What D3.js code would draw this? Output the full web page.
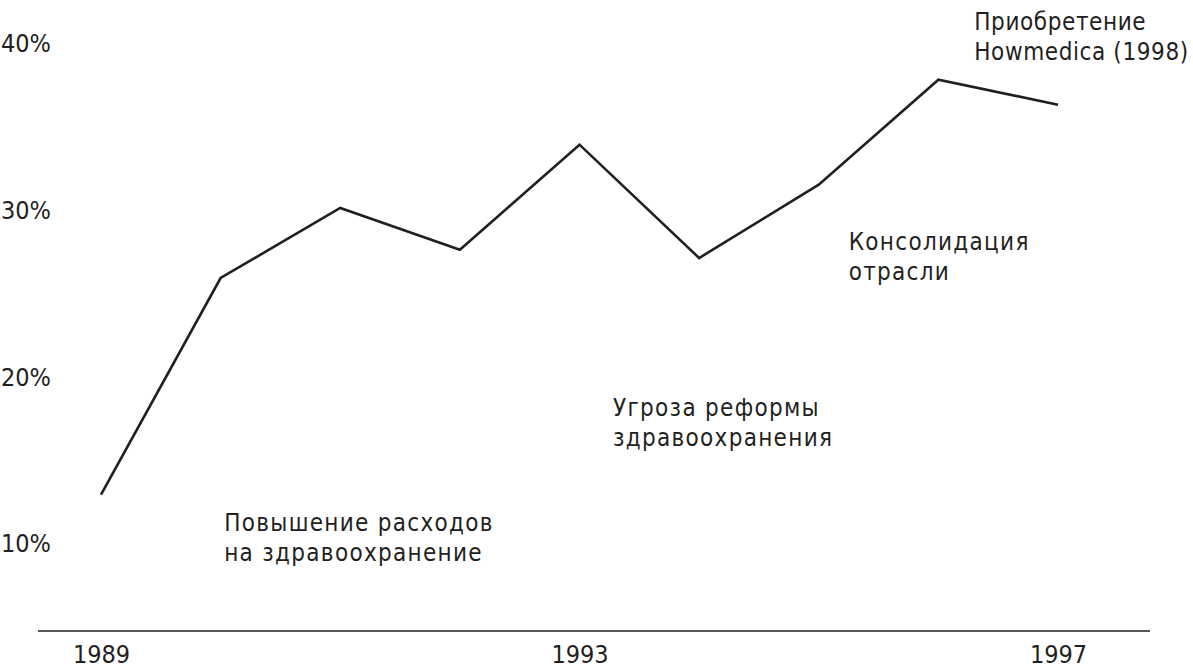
<!DOCTYPE html>
<html>
<head>
<meta charset="utf-8">
<script src="https://cdn.jsdelivr.net/npm/d3@7"></script>
<style>
  html, body { margin: 0; padding: 0; background: #fff; }
  svg text { font-family: "DejaVu Sans Condensed", "Liberation Sans Narrow", "DejaVu Sans", sans-serif; fill: #231f20; }
</style>
</head>
<body>
<svg id="chart" width="1193" height="669"></svg>
<script>
const years = [1989, 1990, 1991, 1992, 1993, 1994, 1995, 1996, 1997];
const shareValues = [12.9, 25.9, 30.1, 27.6, 33.9, 27.1, 31.5, 37.8, 36.3];
const yTickValues = [10, 20, 30, 40];
const xTickValues = [1989, 1993, 1997];
const annotationTexts = [
  ["Повышение расходов", "на здравоохранение"],
  ["Угроза реформы", "здравоохранения"],
  ["Консолидация", "отрасли"],
  ["Приобретение", "Howmedica (1998)"]
];
const annotationAnchors = [
  { year: 1990.03, value: 11.2 },
  { year: 1993.28, value: 18.1 },
  { year: 1995.25, value: 28.1 },
  { year: 1996.3, value: 41.3 }
];
const annotationSpacing = [1.3, 1.3, 1.3, 0.6];

const svg = d3.select("#chart");
const ink = "#231f20";

const x = d3.scaleLinear().domain([1989, 1997]).range([101, 1058]);
const y = d3.scaleLinear().domain([10, 40]).range([543, 43]);

// baseline axis
const xAxis = d3.axisBottom(x).tickValues(xTickValues).tickFormat(d3.format("d")).tickSize(0).tickPadding(14);
const gx = svg.append("g").attr("transform", "translate(0,631)").call(xAxis);
gx.select(".domain").remove();
gx.selectAll("text").attr("font-size", 25).attr("dy", "0.71em").attr("font-family", null);
svg.insert("line", ":first-child")
  .attr("x1", 38).attr("x2", 1150).attr("y1", 631).attr("y2", 631)
  .attr("stroke", ink).attr("stroke-width", 1.6);

// y tick labels
const yAxis = d3.axisLeft(y).tickValues(yTickValues).tickFormat(d => d + "%").tickSize(0).tickPadding(0);
const gy = svg.append("g").attr("transform", "translate(1,0)").call(yAxis);
gy.select(".domain").remove();
gy.selectAll("text").attr("text-anchor", "start").attr("x", 0).attr("font-size", 25).attr("dy", "0.35em").attr("font-family", null);

// line
const line = d3.line().x((d, i) => x(years[i])).y(d => y(d));
svg.append("path")
  .datum(shareValues)
  .attr("d", line)
  .attr("fill", "none")
  .attr("stroke", ink)
  .attr("stroke-width", 2.6)
  .attr("stroke-linejoin", "miter");

// annotations
annotationTexts.forEach((lines, i) => {
  const a = annotationAnchors[i];
  const t = svg.append("text")
    .attr("x", x(a.year))
    .attr("y", y(a.value))
    .attr("font-size", 24)
    .attr("letter-spacing", annotationSpacing[i]);
  lines.forEach((s, j) => {
    t.append("tspan").attr("x", x(a.year)).attr("dy", j === 0 ? "0.35em" : 30).text(s);
  });
});
</script>
</body>
</html>
